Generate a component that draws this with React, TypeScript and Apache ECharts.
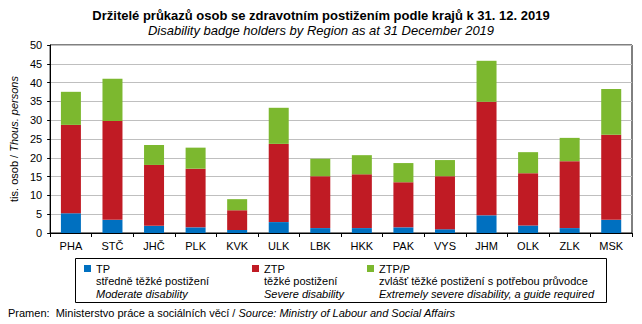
import React, { useEffect, useRef } from "react";
import * as echarts from "echarts";

const categories = ["PHA", "STČ", "JHČ", "PLK", "KVK", "ULK", "LBK", "HKK", "PAK", "VYS", "JHM", "OLK", "ZLK", "MSK"];
const tpValues = [5.25, 3.5, 1.9, 1.5, 0.8, 2.9, 1.3, 1.3, 1.5, 1.0, 4.7, 2.0, 1.3, 3.5];
const ztpValues = [23.5, 26.3, 16.2, 15.6, 5.25, 20.8, 13.8, 14.3, 12.0, 14.1, 30.2, 13.9, 17.8, 22.6];
const ztppValues = [8.8, 11.2, 5.3, 5.6, 2.95, 9.6, 4.65, 5.1, 5.1, 4.3, 10.9, 5.6, 6.2, 12.2];

const seriesNames = ["TP", "ZTP", "ZTP/P"];
const seriesColors = ["#0070c0", "#c01b24", "#7cb82f"];
const legendCz = ["středně těžké postižení", "těžké postižení", "zvlášť těžké postižení s potřebou průvodce"];
const legendEn = ["Moderate disability", "Severe disability", "Extremely severe disability, a guide required"];

const titleCz = "Držitelé průkazů osob se zdravotním postižením podle krajů k 31. 12. 2019";
const titleEn = "Disability badge holders by Region as at 31 December 2019";
const sourceCz = "Pramen:  Ministerstvo práce a sociálních věcí / ";
const sourceEn = "Source: Ministry of Labour and Social Affairs";

const FONT = "'Liberation Sans', Arial, sans-serif";

export default function App() {
  const ref = useRef<HTMLDivElement>(null);
  useEffect(() => {
    if (!ref.current) return;
    const chart = echarts.init(ref.current, null, { renderer: "svg" });
    const dataSets = [tpValues, ztpValues, ztppValues];
    const legendX = [84, 252, 367];
    const legendGraphics: any[] = [
      {
        type: "rect",
        shape: { x: 75.5, y: 258.5, width: 531, height: 44 },
        style: { fill: "#fff", stroke: "#000", lineWidth: 1 },
      },
    ];
    seriesNames.forEach((n, i) => {
      const x = legendX[i];
      legendGraphics.push({
        type: "rect",
        shape: { x, y: 265, width: 7, height: 7 },
        style: { fill: seriesColors[i] },
      });
      legendGraphics.push({
        type: "text",
        x: x + 12,
        y: 268.5,
        style: { text: n, font: `11px ${FONT}`, fill: "#000", verticalAlign: "middle" },
      });
      legendGraphics.push({
        type: "text",
        x: x + 12,
        y: 281,
        style: { text: legendCz[i], font: `11px ${FONT}`, fill: "#000", verticalAlign: "middle" },
      });
      legendGraphics.push({
        type: "text",
        x: x + 12,
        y: 293.5,
        style: { text: legendEn[i], font: `italic 11px ${FONT}`, fill: "#000", verticalAlign: "middle" },
      });
    });

    chart.setOption({
      animation: false,
      backgroundColor: "#fff",
      textStyle: { fontFamily: FONT },
      title: [
        {
          text: titleCz,
          left: "center",
          top: 4,
          textStyle: { fontFamily: FONT, fontSize: 13, fontWeight: "bold", color: "#000" },
        },
        {
          text: titleEn,
          left: "center",
          top: 19,
          textStyle: { fontFamily: FONT, fontSize: 13, fontStyle: "italic", fontWeight: "normal", color: "#000" },
        },
      ],
      grid: {
        left: 47,
        right: 10,
        top: 45,
        bottom: 91,
        show: true,
        borderColor: "#000",
        borderWidth: 1,
        containLabel: false,
      },
      xAxis: {
        type: "category",
        data: categories,
        axisLine: { lineStyle: { color: "#000", width: 1 } },
        axisTick: { show: true, length: 4, lineStyle: { color: "#000" }, alignWithLabel: false },
        axisLabel: { color: "#000", fontSize: 11, margin: 7, fontFamily: FONT },
      },
      yAxis: {
        type: "value",
        min: 0,
        max: 50,
        interval: 5,
        name: "{a|tis. osob / }{b|Thous. persons}",
        nameLocation: "middle",
        nameGap: 30,
        nameTextStyle: {
          rich: {
            a: { fontSize: 11, fontFamily: FONT, color: "#000" },
            b: { fontSize: 11, fontFamily: FONT, fontStyle: "italic", color: "#000" },
          },
        },
        axisLine: { show: true, lineStyle: { color: "#000", width: 1 } },
        axisTick: { show: true, length: 3, lineStyle: { color: "#000" } },
        axisLabel: { color: "#000", fontSize: 11, margin: 8, fontFamily: FONT },
        splitLine: { show: true, lineStyle: { color: "#bfbfbf", width: 1 } },
      },
      series: seriesNames.map((n, i) => ({
        name: n,
        type: "bar",
        stack: "total",
        data: dataSets[i],
        barWidth: 20,
        itemStyle: { color: seriesColors[i] },
      })),
      graphic: [
        ...legendGraphics,
        {
          type: "text",
          x: 8,
          y: 313,
          style: {
            text: "{a|" + sourceCz + "}{b|" + sourceEn + "}",
            verticalAlign: "middle",
            rich: {
              a: { fontSize: 11, fontFamily: FONT, fill: "#000" },
              b: { fontSize: 11, fontFamily: FONT, fontStyle: "italic", fill: "#000" },
            },
          },
        },
      ],
    });
    return () => chart.dispose();
  }, []);
  return <div ref={ref} style={{ position: "fixed", left: 0, top: 0, width: 642, height: 324 }} />;
}
